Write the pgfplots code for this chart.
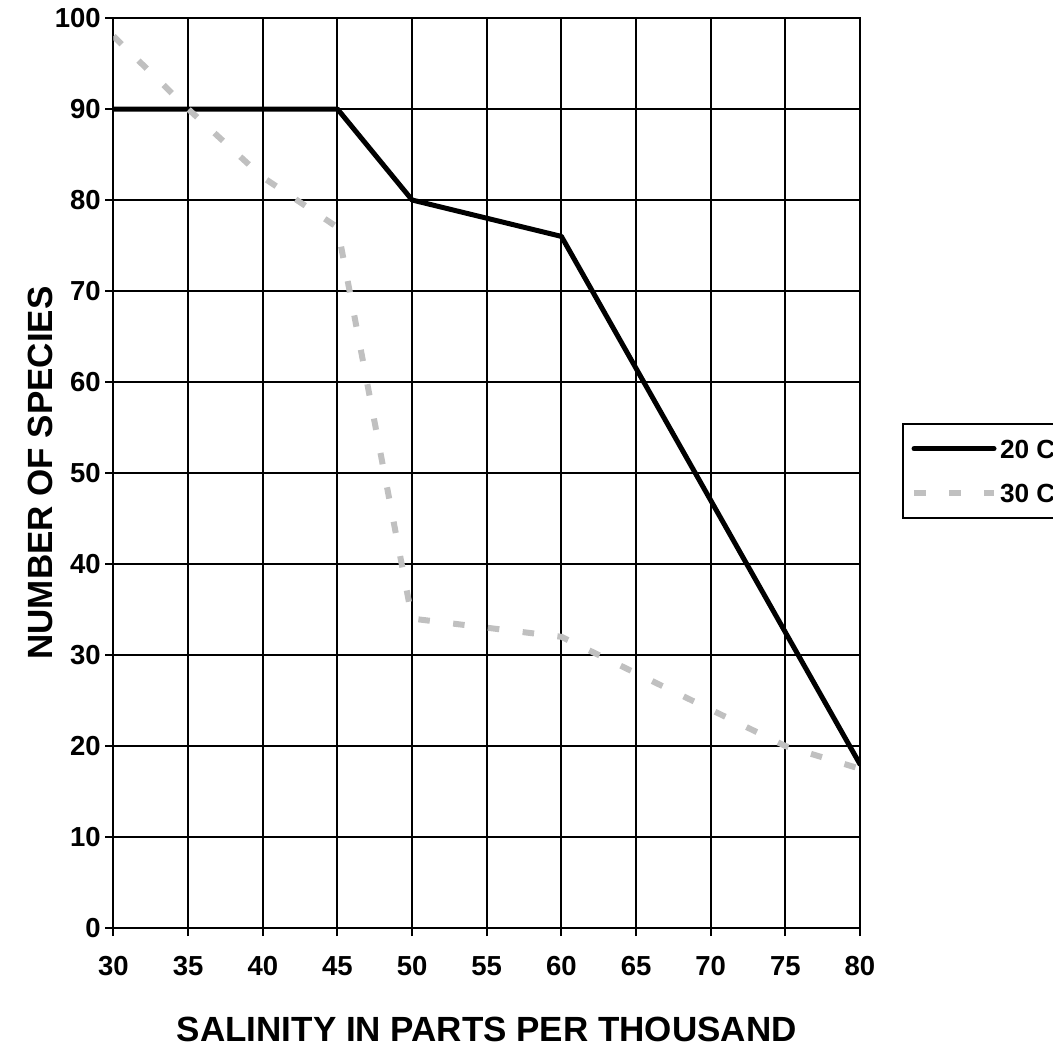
\documentclass[border=0pt]{standalone}
\usepackage{fontspec}
\setmainfont{Liberation Sans}
\usepackage{pgfplots}
\pgfplotsset{compat=1.18}
\definecolor{silv}{RGB}{192,192,192}
\begin{document}
\begin{tikzpicture}
\begin{axis}[
  name=ax,
  scale only axis,
  width=298.6pt, height=364pt,
  xmin=30, xmax=80, ymin=0, ymax=100,
  xtick={30,35,...,80}, ytick={0,10,...,100},
  xtick pos=left, ytick pos=left,
  tick align=outside,
  major tick length=3.2pt,
  every tick/.style={black, line width=0.8pt},
  axis line style={black, line width=0.8pt},
  grid=major,
  major grid style={black, line width=0.8pt},
  /pgf/number format/assume math mode=true,
  tick label style={font=\fontsize{11}{13}\selectfont\bfseries, text height=7.9pt, text depth=0pt},
  xticklabel style={yshift=-4.5pt},
  yticklabel style={xshift=1.6pt},
  xlabel={SALINITY IN PARTS PER THOUSAND},
  ylabel={NUMBER OF SPECIES},
  label style={font=\fontsize{14}{16}\selectfont\bfseries},
  xlabel style={at={(axis description cs:0.5,-0.112)}, anchor=center},
  ylabel style={at={(axis description cs:-0.0978,0.5)}, anchor=center},
  legend style={
    at={(rel axis cs:1.0563,0.555)}, anchor=north west,
    draw=black, line width=0.8pt,
    font=\fontsize{10.5}{12}\selectfont\bfseries,
    inner xsep=3.2pt, inner ysep=6.2pt, row sep=10.2pt,
    nodes={inner sep=0pt, text height=7.5pt, text depth=0pt},
    cells={anchor=west}
  },
  legend cell align=left,
  legend image code/.code={\draw[#1] (1pt,0pt) -- (33pt,0pt);},
]
\addplot[black, line width=2pt, line join=round, line cap=round] coordinates {
(30,90) (35,90) (40,90) (45,90) (50,80) (55,78) (60,76) (65,61.5) (70,47) (75,32.5) (80,18)
};
\addlegendentry{\hspace{1.2pt}20 C}
\addplot[silv, line width=2.4pt, dash pattern=on 4.6pt off 9.4pt] coordinates {
(30,98) (35,90) (40,82.5) (45,77) (50,34) (55,33) (60,32) (65,28) (70,24) (75,20) (80,17.5)
};
\addlegendentry{\hspace{1.2pt}30 C}
\end{axis}
\pgfresetboundingbox
\path[use as bounding box] ([shift={(-45.4pt,-47.6pt)}]ax.south west) rectangle ([shift={(375.8pt,371.2pt)}]ax.south west);
\end{tikzpicture}
\end{document}
